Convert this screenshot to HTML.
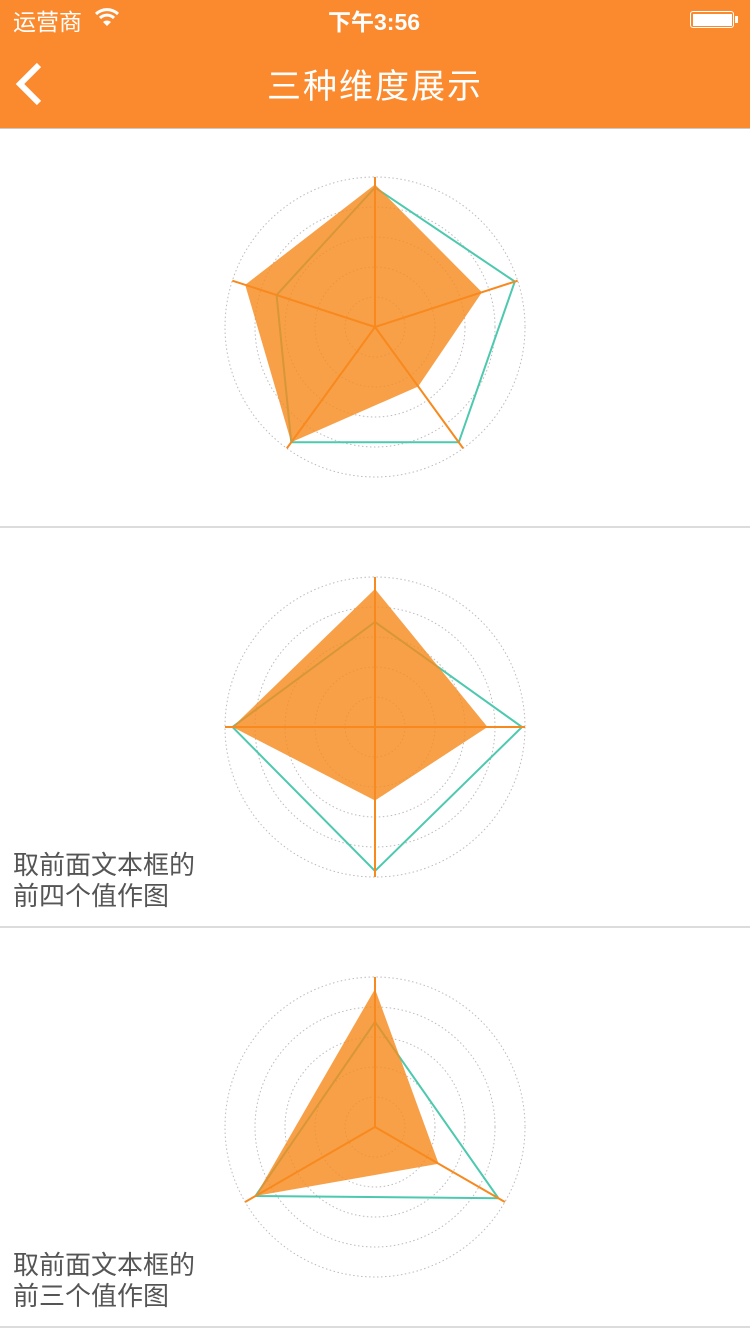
<!DOCTYPE html>
<html><head><meta charset="utf-8">
<style>
body{margin:0;width:750px;height:1334px;background:#fff;position:relative;overflow:hidden;font-family:"Liberation Sans","Noto Sans CJK SC",sans-serif;}
#nav{position:absolute;left:0;top:0;width:750px;height:128px;background:#fb8a2e;border-bottom:1px solid #c9c9c9;}
.st{position:absolute;color:#fff;font-size:23px;top:3px;}
#title{position:absolute;left:0;width:750px;top:59px;text-align:center;color:#fff;font-size:34px;letter-spacing:2px;}
.sep{position:absolute;left:0;width:750px;height:2px;background:#dcdcdc;}
.lbl{position:absolute;left:13px;font-size:26px;line-height:31px;color:#555;}
svg{position:absolute;left:0;}
</style></head><body>
<div id="nav">
  <div class="st" style="left:13px">运营商</div>
  <svg style="left:94px;top:7px" width="26" height="20">
    <path d="M2 7 A16 16 0 0 1 24 7" stroke="#fff" stroke-width="3" fill="none"/>
    <path d="M6 11 A10 10 0 0 1 20 11" stroke="#fff" stroke-width="3" fill="none"/>
    <path d="M9 15 L13 19 L17 15 A6 6 0 0 0 9 15Z" fill="#fff"/>
  </svg>
  <div class="st" style="left:328px;font-weight:bold">下午3:56</div>
  <div style="position:absolute;left:690px;top:11px;width:44px;height:17px;border:1.5px solid #fff;border-radius:3px;box-sizing:border-box;padding:1.5px"><div style="background:#fff;width:100%;height:100%"></div></div>
  <div style="position:absolute;left:735px;top:16px;width:3px;height:7px;background:#fff"></div>
  <svg style="left:14px;top:62px" width="32" height="44"><path d="M25 3 L6 22 L25 41" stroke="#fff" stroke-width="6" fill="none"/></svg>
  <div id="title">三种维度展示</div>
</div>
<div class="sep" style="top:526px"></div>
<div class="sep" style="top:926px"></div>
<div class="sep" style="top:1326px"></div>
<div class="lbl" style="top:850px">取前面文本框的<br>前四个值作图</div>
<div class="lbl" style="top:1250px">取前面文本框的<br>前三个值作图</div>
<svg id="c1" style="top:128px" width="750" height="400"></svg>
<svg id="c2" style="top:528px" width="750" height="400"></svg>
<svg id="c3" style="top:928px" width="750" height="400"></svg>
<script>
const ringLevels = [0.2, 0.4, 0.6, 0.8, 1.0];
const chart1Orange = [0.95, 0.75, 0.49, 0.95, 0.91];
const chart1Teal = [0.93, 0.98, 0.95, 0.95, 0.69];
const chart2Orange = [0.92, 0.75, 0.49, 0.95];
const chart2Teal = [0.70, 0.98, 0.96, 0.95];
const chart3Orange = [0.92, 0.49, 0.92];
const chart3Teal = [0.70, 0.95, 0.92];
const NS = "http://www.w3.org/2000/svg";
const CX = 375, CY = 199, R = 150;
function pt(i, n, v){const a = -Math.PI/2 + i*2*Math.PI/n; return [CX + Math.cos(a)*R*v, CY + Math.sin(a)*R*v];}
function mk(svg, tag, attrs){const e = document.createElementNS(NS, tag); for (const k in attrs) e.setAttribute(k, attrs[k]); svg.appendChild(e); return e;}
function draw(id, orange, teal){
  const svg = document.getElementById(id), n = orange.length;
  ringLevels.forEach(l => {
    const c = mk(svg, 'circle', {cx:CX, cy:CY, r:R*l, fill:'none', stroke:'#bbb', 'stroke-width':1, 'stroke-dasharray':'1.5 2.5'});
    
    
  });
  const tp = teal.map((v, i) => pt(i, n, v).join(',')).join(' ');
  const t = mk(svg, 'polygon', {points:tp, fill:'none', stroke:'#4cc9ae', 'stroke-width':2});
  
  
  const fp = orange.map((v, i) => pt(i, n, v).join(',')).join(' ');
  const f = mk(svg, 'polygon', {points:fp, fill:'#f68b1f', 'fill-opacity':0.82, stroke:'none'});
  
  
  for (let i = 0; i < n; i++){
    const e = pt(i, n, 1.0);
    const l = mk(svg, 'line', {x1:CX, y1:CY, x2:e[0], y2:e[1], stroke:'#f7891f', 'stroke-width':2});
    
    
  }
}
draw('c1', chart1Orange, chart1Teal);
draw('c2', chart2Orange, chart2Teal);
draw('c3', chart3Orange, chart3Teal);
</script>
</body></html>
